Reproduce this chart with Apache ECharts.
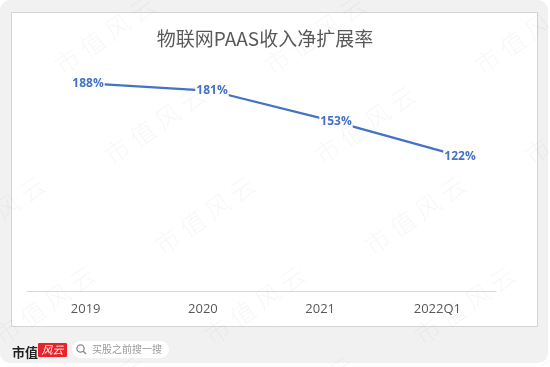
<!DOCTYPE html>
<html>
<head>
<meta charset="utf-8">
<script src="https://cdn.jsdelivr.net/npm/echarts@6/dist/echarts.min.js"></script>
<style>
html,body{margin:0;padding:0;background:#fff;}
#chart{width:550px;height:367px;}
</style>
</head>
<body>
<div id="chart"></div>
<script>
var titleText = '物联网PAAS收入净扩展率';
var categories = ['2019', '2020', '2021', '2022Q1'];
var netExpansionRate = [188, 181, 153, 122];

var chart = echarts.init(document.getElementById('chart'));

var graphics = [
  {type:'rect', z:-10, silent:true, shape:{x:0,y:0,width:548,height:363,r:10}, style:{fill:'#f1f1f1'}},
  {type:'rect', z:-9, silent:true, shape:{x:11.5,y:12.5,width:526,height:314}, style:{fill:'#ffffff',stroke:'#d4d4d4',lineWidth:1}},
  // bottom logo
  {type:'text', z:5, x:12, y:352, style:{text:'市值', font:'bold 13px "Noto Sans CJK SC"', fill:'#222', textVerticalAlign:'middle'}},
  {type:'rect', z:5, shape:{x:38,y:343,width:29,height:14,r:1}, style:{fill:'#e8232a'}},
  {type:'text', z:6, x:52.5, y:350, style:{text:'风云', font:'italic 11px "Noto Sans CJK SC"', fill:'#fff', textAlign:'center', textVerticalAlign:'middle'}},
  {type:'rect', z:5, shape:{x:72,y:341,width:97,height:17,r:8.5}, style:{fill:'#ffffff'}},
  {type:'circle', z:6, shape:{cx:80.5,cy:348.5,r:3.6}, style:{fill:'none',stroke:'#8a8a8a',lineWidth:1.3}},
  {type:'line', z:6, shape:{x1:83.2,y1:351.2,x2:86,y2:354}, style:{stroke:'#8a8a8a',lineWidth:1.4}},
  {type:'text', z:6, x:92, y:349.5, style:{text:'买股之前搜一搜', font:'10px "Noto Sans CJK SC"', fill:'#9a9a9a', textVerticalAlign:'middle'}}
];

// faint diagonal watermark tiles
var wmRows = [-55, 35, 125, 215, 305, 395];
wmRows.forEach(function (wy, i) {
  var x0 = 55 + 50 * i;
  while (x0 > 0) x0 -= 210;
  for (var wx = x0; wx < 700; wx += 210) {
    graphics.push({
      type:'text', z:100, silent:true, x:wx, y:wy, rotation: 35 * Math.PI / 180,
      style:{text:'市 值 风 云', font:'300 25px "Noto Sans CJK SC"', fill:'rgba(0,0,0,0.035)', textAlign:'center', textVerticalAlign:'middle'}
    });
  }
});

var option = {
  backgroundColor: '#ffffff',
  animation: false,
  title: {
    text: titleText,
    left: 260,
    textAlign: 'center',
    top: 24,
    textStyle: {fontFamily:'"Noto Sans CJK SC"', fontSize:19, fontWeight:'normal', color:'#595959'}
  },
  graphic: graphics,
  grid: [
    {left:27, right:54, top:70, bottom:76},
    {left:26, width:496, top:70, bottom:76}
  ],
  xAxis: [
    {
      type:'category', gridIndex:0, data:categories, boundaryGap:true,
      axisLine:{show:true, lineStyle:{color:'#d9d9d9', width:1}},
      axisTick:{show:false},
      axisLabel:{color:'#595959', fontSize:13, fontFamily:'"Open Sans", sans-serif', margin:12},
      splitLine:{show:false}
    },
    {
      type:'category', gridIndex:1, data:categories, boundaryGap:true,
      show:false
    }
  ],
  yAxis: [
    {type:'value', gridIndex:0, min:0, max:200, show:false, splitLine:{show:false}},
    {type:'value', gridIndex:1, min:0, max:200, show:false, splitLine:{show:false}}
  ],
  series: [{
    type:'line',
    xAxisIndex:1, yAxisIndex:1,
    data: netExpansionRate,
    symbol:'circle', symbolSize:1,
    itemStyle:{color:'#4472C4'},
    lineStyle:{color:'#4472C4', width:2.25},
    label:{
      show:true, position:'inside',
      formatter: function (p) { return p.value + '%'; },
      color:'#4472C4', fontSize:12, fontWeight:'bold',
      fontFamily:'"Open Sans", sans-serif',
      backgroundColor:'#ffffff', padding:[0,1]
    },
    z:3
  }]
};
chart.setOption(option);
</script>
</body>
</html>
